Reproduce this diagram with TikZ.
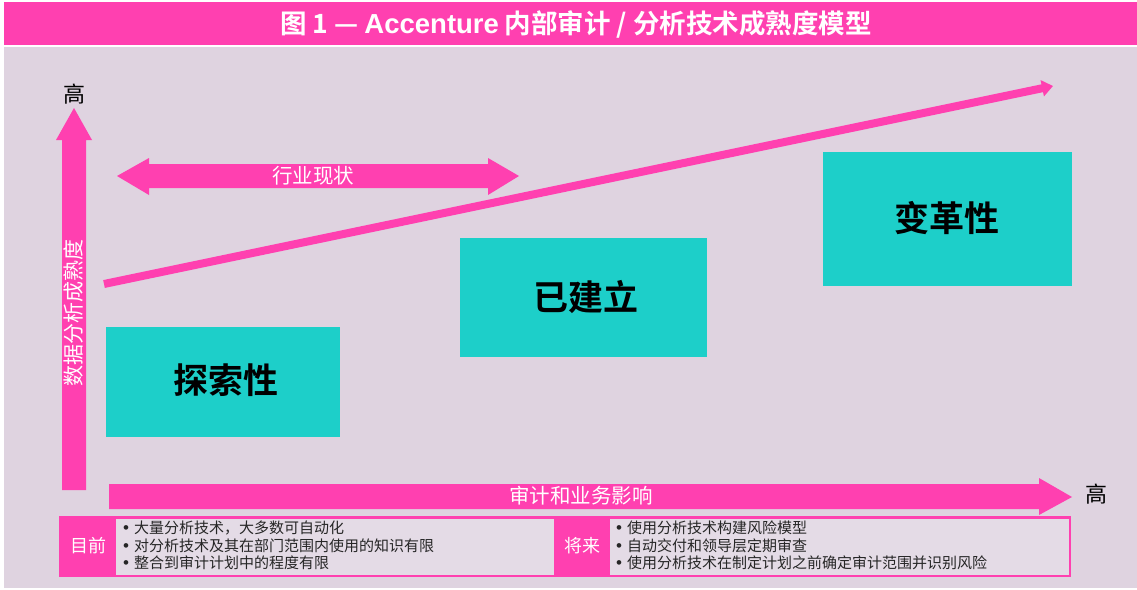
\documentclass[tikz,border=0pt]{standalone}
\usepackage{fontspec}
\setmainfont{Noto Sans CJK SC}[BoldFont={Noto Sans CJK SC Bold}]
\newfontfamily\bulfont{Liberation Sans}
\newfontfamily\latfont{Liberation Sans}
\newcommand{\bul}{{\bulfont\fontsize{17}{16}\selectfont •}\hspace{5pt}}
\usetikzlibrary{arrows.meta}
\definecolor{pinkc}{HTML}{FF40B0}
\definecolor{lav}{HTML}{DFD3E0}
\definecolor{lavcell}{HTML}{E4DBE6}
\definecolor{teal}{HTML}{1DCFC9}
\tikzset{
  stagebox/.style={fill=teal, draw=none},
  stagelabel/.style={font=\fontsize{35}{40}\selectfont\bfseries, text=black, inner sep=0pt},
  blockarrow/.style={fill=pinkc, draw=none},
  whitelabel/.style={text=white, inner sep=0pt},
  hilabel/.style={text=black, inner sep=0pt, font=\fontsize{22}{24}\selectfont},
  bullettext/.style={text=black!85, inner sep=0pt, anchor=west, font=\fontsize{15}{16}\selectfont},
  tabcell/.style={fill=pinkc, draw=none},
}
\begin{document}
\begin{tikzpicture}[x=1pt,y=-1pt]
\useasboundingbox (0,0) rectangle (1137,589);
\fill[white] (0,0) rectangle (1137,589);
% title bar
\fill[pinkc] (4,2) rectangle (1137,45);
\fill[lav] (4,47) rectangle (1137,588);
\node[whitelabel, font=\fontsize{26.5}{28}\selectfont\bfseries] (title) at (576,24) {图 1 — {\latfont\bfseries\fontsize{27.5}{28}\selectfont Accenture} 内部审计 / 分析技术成熟度模型};

% vertical axis arrow
\fill[blockarrow] (62,490) -- (62,140) -- (56,140) -- (74,108) -- (92,140) -- (86,140) -- (86,490) -- cycle;
\node[hilabel] (hiy) at (74,94) {高};
\node[whitelabel, rotate=90, font=\fontsize{21}{22}\selectfont] (ylab) at (74,313) {数据分析成熟度};

% horizontal axis arrow
\fill[blockarrow] (109,484) -- (1039,484) -- (1039,478) -- (1072,497) -- (1039,515) -- (1039,509) -- (109,509) -- cycle;
\node[hilabel] (hix) at (1096,494) {高};
\node[whitelabel, font=\fontsize{20.5}{22}\selectfont] (xlab) at (581,496) {审计和业务影响};

% industry double arrow
\fill[blockarrow] (117,176) -- (149,158) -- (149,164) -- (488,164) -- (488,158) -- (519,176) -- (488,195) -- (488,188) -- (149,188) -- (149,195) -- cycle;
\node[whitelabel, font=\fontsize{20.5}{22}\selectfont] (indlab) at (313,176) {行业现状};

% diagonal trend arrow
\coordinate (dstart) at (104,284);
\coordinate (dend) at (1053,86);
\draw[pinkc, line width=8pt, -{Triangle[length=11pt,width=16pt]}] (dstart) -- (dend);

% stage boxes
\fill[stagebox] (106,327) rectangle (340,437);
\node[stagelabel] (s1) at (226,380) {探索性};
\fill[stagebox] (460,238) rectangle (707,357);
\node[stagelabel] (s2) at (586,297) {已建立};
\fill[stagebox] (823,152) rectangle (1072,286);
\node[stagelabel] (s3) at (947,218) {变革性};

% bottom table
\fill[pinkc] (59,516) rectangle (1071,577);
\fill[lavcell] (116,518.5) rectangle (554,574.5);
\fill[lavcell] (610,518.5) rectangle (1069,574.5);
\node[whitelabel, font=\fontsize{18}{20}\selectfont] (now) at (88,546) {目前};
\node[whitelabel, font=\fontsize{18}{20}\selectfont] (fut) at (582,546) {将来};

\node[bullettext] (a1) at (123,528) {\bul 大量分析技术，大多数可自动化};
\node[bullettext] (a2) at (123,546) {\bul 对分析技术及其在部门范围内使用的知识有限};
\node[bullettext] (a3) at (123,563) {\bul 整合到审计计划中的程度有限};
\node[bullettext] (b1) at (616,528) {\bul 使用分析技术构建风险模型};
\node[bullettext] (b2) at (616,546) {\bul 自动交付和领导层定期审查};
\node[bullettext] (b3) at (616,563) {\bul 使用分析技术在制定计划之前确定审计范围并识别风险};
\end{tikzpicture}
\end{document}
